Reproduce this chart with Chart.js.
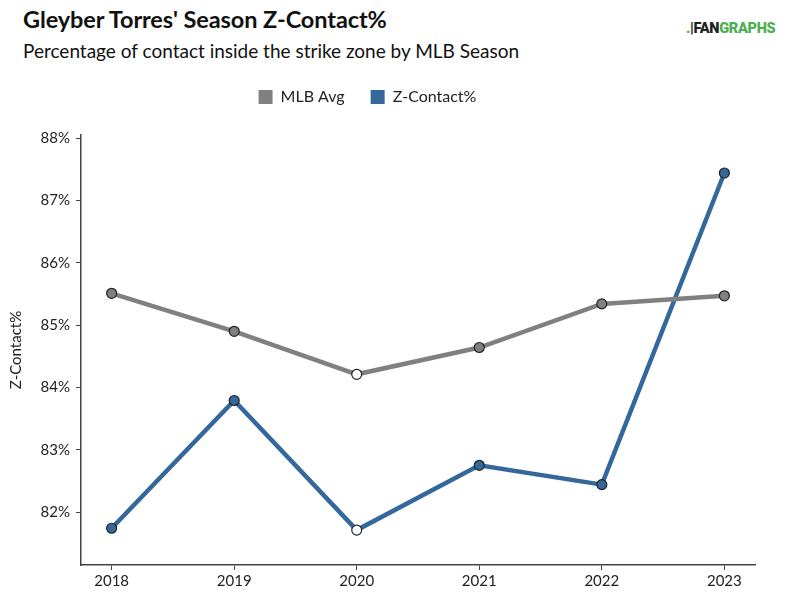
<!DOCTYPE html>
<html>
<head>
<meta charset="utf-8">
<script src="https://cdn.jsdelivr.net/npm/chart.js@4.4.0/dist/chart.umd.min.js"></script>
<style>
  html, body { margin: 0; padding: 0; background: #fff; }
  body { width: 787px; height: 598px; position: relative; overflow: hidden; font-family: Lato, "Open Sans", sans-serif; }
  #title { position: absolute; left: 23px; top: 5px; font-size: 23.5px; font-weight: bold; color: #111; white-space: nowrap; letter-spacing: -0.1px; }
  #subtitle { position: absolute; left: 23px; top: 39px; font-size: 19px; color: #111; white-space: nowrap; }
  #logo { position: absolute; left: 686px; top: 20px; font-size: 14.5px; font-weight: 900; letter-spacing: -0.3px; white-space: nowrap; font-family: Roboto, Lato, sans-serif; }
  #logo .fan { color: #222; }
  #logo .gr { color: #4caf50; }
  #logo .mark { color: #4caf50; }
  #wrap { position: absolute; left: 0; top: 0; width: 787px; height: 598px; }
</style>
</head>
<body>
<div id="title">Gleyber Torres' Season Z-Contact%</div>
<div id="subtitle">Percentage of contact inside the strike zone by MLB Season</div>
<div id="logo"><span class="mark">.</span><span class="fan">|</span><span class="fan">FAN</span><span class="gr">GRAPHS</span></div>
<div id="wrap"><canvas id="c" width="787" height="598"></canvas></div>
<script>
const seasons = [2018, 2019, 2020, 2021, 2022, 2023];
const mlbAvg = [85.51, 84.90, 84.21, 84.64, 85.34, 85.47];
const zContact = [81.74, 83.79, 81.71, 82.75, 82.44, 87.44];
const yTicks = [82, 83, 84, 85, 86, 87, 88];
const seriesNames = ['MLB Avg', 'Z-Contact%'];
const seriesColors = ['#808080', '#34679a'];

function pts(vals) { return seasons.map((s, i) => ({ x: s, y: vals[i] })); }
function fills(color) { return seasons.map(s => s === 2020 ? '#ffffff' : color); }

const legendTweak = {
  id: 'legendTweak',
  beforeUpdate(chart) {
    const lg = chart.legend;
    if (lg && !lg._patched) {
      const f = lg.fit.bind(lg);
      lg.fit = function () { f(); this.height += 20; };
      lg._patched = true;
    }
  },
  afterLayout(chart) {
    const lg = chart.legend;
    if (lg) { lg.left -= 10; lg.right -= 10; }
  }
};

const ctx = document.getElementById('c').getContext('2d');
new Chart(ctx, {
  type: 'line',
  plugins: [legendTweak],
  data: {
    datasets: [
      {
        label: seriesNames[0], data: pts(mlbAvg),
        borderColor: seriesColors[0], backgroundColor: seriesColors[0],
        borderWidth: 4.5, pointRadius: 5, pointBorderWidth: 1.2,
        pointBackgroundColor: fills(seriesColors[0]), pointBorderColor: '#222',
        tension: 0
      },
      {
        label: seriesNames[1], data: pts(zContact),
        borderColor: seriesColors[1], backgroundColor: seriesColors[1],
        borderWidth: 4.5, pointRadius: 5, pointBorderWidth: 1.2,
        pointBackgroundColor: fills(seriesColors[1]), pointBorderColor: '#222',
        tension: 0
      }
    ]
  },
  options: {
    responsive: false,
    animation: false,
    devicePixelRatio: 1,
    layout: { padding: { top: 63, right: 32, left: 0, bottom: 0 } },
    plugins: {
      legend: {
        display: true,
        position: 'top',
        labels: {
          boxWidth: 14, boxHeight: 14, padding: 26,
          color: '#222',
          font: { family: 'Lato', size: 16 },
          generateLabels(chart) {
            return chart.data.datasets.map((d, i) => ({
              text: d.label, fillStyle: seriesColors[i], strokeStyle: seriesColors[i],
              lineWidth: 0, datasetIndex: i, fontColor: '#222'
            }));
          }
        }
      },
      tooltip: { enabled: false }
    },
    scales: {
      x: {
        type: 'linear',
        min: 2017.75, max: 2023.25,
        afterBuildTicks(scale) { scale.ticks = seasons.map(v => ({ value: v })); },
        afterFit(scale) { scale.height = 33; },
        grid: { display: true, drawOnChartArea: false, drawTicks: true, tickLength: 5, color: '#444', lineWidth: 1 },
        border: { display: true, color: '#444', width: 1.5 },
        ticks: { color: '#222', font: { family: 'Lato', size: 15 }, padding: 2, callback: v => String(v), autoSkip: false, maxRotation: 0 }
      },
      y: {
        min: 81.15, max: 88.05,
        afterBuildTicks(scale) { scale.ticks = yTicks.map(v => ({ value: v })); },
        afterFit(scale) { scale.width = 81; },
        title: { display: true, text: 'Z-Contact%', color: '#222', font: { family: 'Lato', size: 15 }, padding: { top: 7, bottom: 0 } },
        grid: { display: true, drawOnChartArea: false, drawTicks: true, tickLength: 5, color: '#444', lineWidth: 1 },
        border: { display: true, color: '#444', width: 1.5 },
        ticks: { color: '#222', font: { family: 'Lato', size: 15 }, padding: 6, callback: v => v + '%' }
      }
    }
  }
});
</script>
</body>
</html>
